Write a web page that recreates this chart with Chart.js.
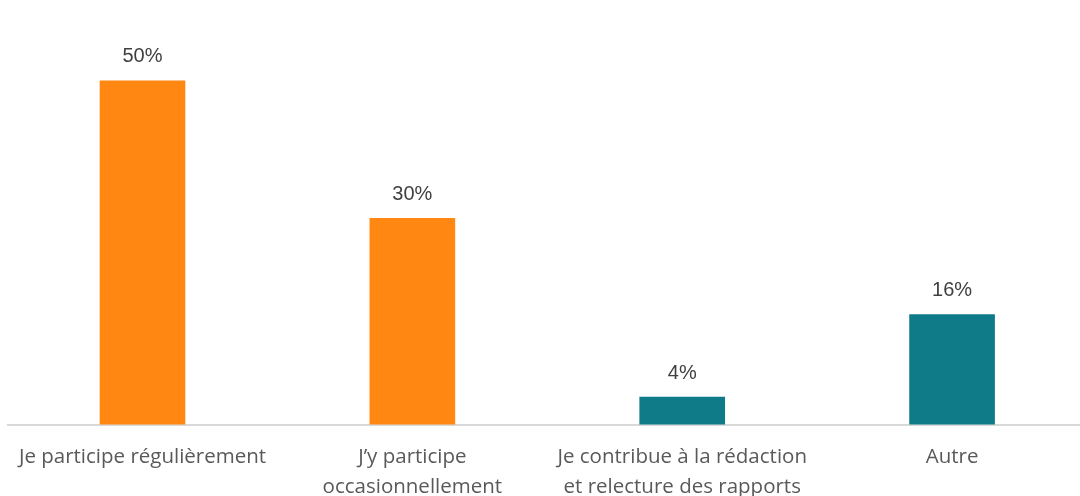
<!DOCTYPE html>
<html lang="fr">
<head>
<meta charset="utf-8">
<title>Participation</title>
<script src="https://cdn.jsdelivr.net/npm/chart.js@4.4.1/dist/chart.umd.min.js"></script>
<style>
  html, body { margin: 0; padding: 0; background: #fff; overflow: hidden; }
  #wrap { position: relative; width: 1087px; height: 520px; }
</style>
</head>
<body>
<div id="wrap"><canvas id="bar-chart"></canvas></div>
<script>
// données
var categories = [
  ["Je participe régulièrement"],
  ["J\u2019y participe", "occasionnellement"],
  ["Je contribue à la rédaction", "et relecture des rapports"],
  ["Autre"]
];
var values = [50, 30, 4, 16];
var barColors = ["#FF8712", "#FF8712", "#0F7B89", "#0F7B89"];

// étiquettes au-dessus des barres
var valueLabels = {
  id: 'valueLabels',
  afterDatasetsDraw: function (chart) {
    var ctx = chart.ctx;
    var meta = chart.getDatasetMeta(0);
    ctx.save();
    ctx.font = '20px "Liberation Sans", Arial, sans-serif';
    ctx.fillStyle = '#404040';
    ctx.textAlign = 'center';
    ctx.textBaseline = 'middle';
    meta.data.forEach(function (bar, i) {
      ctx.fillText(values[i] + '%', bar.x, bar.y - 24);
    });
    ctx.restore();
  }
};

new Chart(document.getElementById("bar-chart"), {
  type: 'bar',
  data: {
    labels: categories,
    datasets: [{
      data: values,
      backgroundColor: barColors,
      barThickness: 85
    }]
  },
  options: {
    responsive: true,
    maintainAspectRatio: false,
    animation: false,
    layout: { padding: { top: 12, left: 7, right: 0, bottom: 0 } },
    plugins: {
      legend: { display: false },
      tooltip: { enabled: false }
    },
    scales: {
      x: {
        grid: { display: false, drawTicks: false },
        border: { display: true, color: '#d9d9d9', width: 2 },
        ticks: {
          color: '#595959',
          padding: 18,
          maxRotation: 0,
          autoSkip: false,
          font: { family: '"Open Sans", sans-serif', size: 20.5, lineHeight: 1.45 }
        }
      },
      y: {
        display: false,
        min: 0,
        max: 60
      }
    }
  },
  plugins: [valueLabels]
});
</script>
</body>
</html>
